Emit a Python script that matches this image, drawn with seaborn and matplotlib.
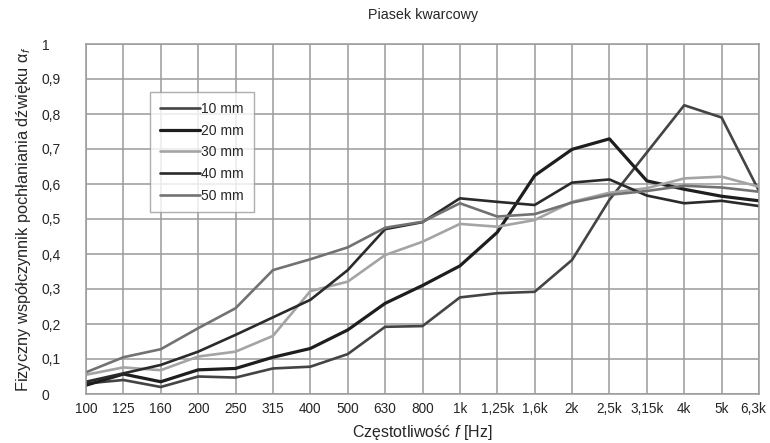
import numpy as np
import pandas as pd
import matplotlib
matplotlib.use("Agg")
import matplotlib.pyplot as plt
import seaborn as sns

freq_labels = ["100", "125", "160", "200", "250", "315", "400", "500", "630", "800",
               "1k", "1,25k", "1,6k", "2k", "2,5k", "3,15k", "4k", "5k", "6,3k"]

mm10 = [0.030, 0.040, 0.020, 0.050, 0.047, 0.073, 0.078, 0.114, 0.192, 0.194,
        0.276, 0.288, 0.292, 0.383, 0.555, 0.690, 0.825, 0.790, 0.580]
mm20 = [0.025, 0.057, 0.035, 0.069, 0.073, 0.105, 0.130, 0.183, 0.259, 0.310,
        0.366, 0.462, 0.624, 0.699, 0.729, 0.609, 0.585, 0.565, 0.552]
mm30 = [0.055, 0.076, 0.068, 0.107, 0.121, 0.166, 0.294, 0.321, 0.397, 0.435,
        0.486, 0.478, 0.497, 0.549, 0.575, 0.588, 0.616, 0.621, 0.592]
mm40 = [0.035, 0.059, 0.083, 0.121, 0.169, 0.219, 0.269, 0.354, 0.471, 0.491,
        0.559, 0.549, 0.540, 0.604, 0.613, 0.567, 0.545, 0.552, 0.537]
mm50 = [0.062, 0.105, 0.128, 0.188, 0.245, 0.354, 0.385, 0.419, 0.475, 0.492,
        0.545, 0.507, 0.514, 0.547, 0.569, 0.580, 0.595, 0.590, 0.578]

series_names = ["10 mm", "20 mm", "30 mm", "40 mm", "50 mm"]
series_values = [mm10, mm20, mm30, mm40, mm50]

colors = {"10 mm": "#444444", "20 mm": "#1e1e1e", "30 mm": "#a4a4a4",
          "40 mm": "#2a2a2a", "50 mm": "#727272"}
widths = {"10 mm": 1.9, "20 mm": 2.3, "30 mm": 1.9, "40 mm": 1.9, "50 mm": 1.9}

rows = []
for name, vals in zip(series_names, series_values):
    for i, v in enumerate(vals):
        rows.append({"x": i, "y": v, "series": name})
df = pd.DataFrame(rows)

sns.set_style("white")
plt.rcParams["font.family"] = ["Liberation Sans", "DejaVu Sans"]
plt.rcParams["mathtext.fontset"] = "custom"
plt.rcParams["mathtext.it"] = "Liberation Sans:italic"
plt.rcParams["mathtext.rm"] = "Liberation Sans"

fig = plt.figure(figsize=(7.7, 4.43), dpi=100)
ax = fig.add_axes([86 / 770, 1 - 394 / 443, 673 / 770, 350 / 443])

for name in series_names:
    sub = df[df["series"] == name]
    sns.lineplot(data=sub, x="x", y="y", ax=ax, color=colors[name],
                 linewidth=widths[name], label=name, sort=False)

n = len(freq_labels)
ax.set_xlim(0, n - 1)
ax.set_ylim(0, 1)
ax.set_xticks(np.arange(n))
ax.set_xticklabels(freq_labels[:-1] + [""], fontsize=9.8)
# last label nudged left so it stays inside the figure
ax.annotate(freq_labels[-1], xy=(n - 1, 0), xycoords=("data", "axes fraction"),
            xytext=(-4, -6), textcoords="offset points",
            ha="center", va="top", fontsize=9.8)
yt = np.round(np.arange(0, 1.01, 0.1), 1)
ax.set_yticks(yt)
ax.set_yticklabels([("%g" % v).replace(".", ",") for v in yt], fontsize=10)
for lab in ax.get_yticklabels():
    lab.set_horizontalalignment("left")
ax.tick_params(axis="y", length=0, pad=32)
ax.tick_params(axis="x", length=0, pad=6)

ax.grid(True, color="#9a9a9a", linewidth=1.1)
ax.set_axisbelow(True)
for sp in ax.spines.values():
    sp.set_color("#9a9a9a")
    sp.set_linewidth(1.1)

ax.set_title("Piasek kwarcowy", fontsize=10.3, pad=18)
ax.set_xlabel("Częstotliwość $f$ [Hz]", fontsize=11.5, labelpad=5)
ax.set_ylabel("Fizyczny współczynnik pochłaniania dźwięku $\\mathrm{\\alpha}_f$",
              fontsize=11.8, labelpad=6)

leg = ax.legend(loc="upper left", bbox_to_anchor=(0.095, 0.862), fontsize=10,
                frameon=True, fancybox=False, handlelength=2.9, handletextpad=0.1,
                borderpad=0.7, labelspacing=0.55, borderaxespad=0)
leg.get_frame().set_edgecolor("#9a9a9a")
leg.get_frame().set_linewidth(1.0)

fig.savefig("out.png", dpi=100)
